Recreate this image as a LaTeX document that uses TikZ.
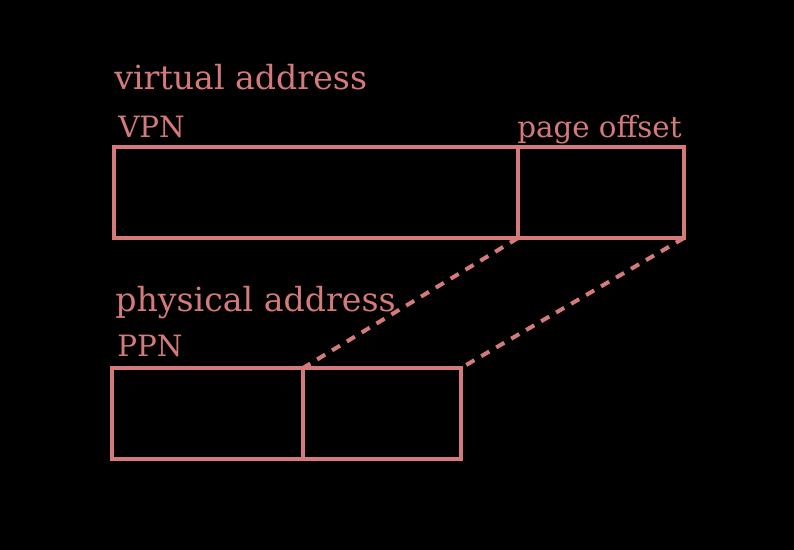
\documentclass[tikz,border=0pt]{standalone}
\usepackage{fontspec}
\setmainfont{DejaVu Serif}
\definecolor{salmon}{RGB}{212,122,122}
\tikzset{
	field/.style={draw=salmon, line width=3pt, inner sep=0pt, outer sep=0pt,
		minimum height=68.25pt, anchor=north west},
	title/.style={text=salmon, font=\fontsize{24.9}{29}\selectfont, inner sep=0pt, anchor=base west},
	label/.style={text=salmon, font=\fontsize{22}{26}\selectfont, inner sep=0pt, anchor=base west},
	link/.style={draw=salmon, line width=3pt, dash pattern=on 7pt off 6pt}
}
\begin{document}
\begin{tikzpicture}[x=0.75pt, y=-0.75pt]
\fill[black] (0,0) rectangle (794,550);
% Virtual address
\begin{scope}
	\node[title] (vtitle) at (114,89) {virtual address};
	\node[label] (vpnlabel) at (118,137) {VPN};
	\node[label] (vofflabel) at (517,137) {page offset};
	\node[field, minimum width=303pt] (vpn) at (114,147) {};
	\node[field, minimum width=124.5pt] (voff) at (518,147) {};
\end{scope}
% Physical address
\begin{scope}
	\node[title] (ptitle) at (115,311) {physical address};
	\node[label] (ppnlabel) at (117,356) {PPN};
	\node[field, minimum width=143.25pt] (ppn) at (112,368) {};
	\node[field, minimum width=118.5pt] (poff) at (303,368) {};
\end{scope}
% Offset is copied unchanged
\draw[link] (voff.south west) -- (poff.north west);
\draw[link] (voff.south east) -- (poff.north east);
\end{tikzpicture}
\end{document}
